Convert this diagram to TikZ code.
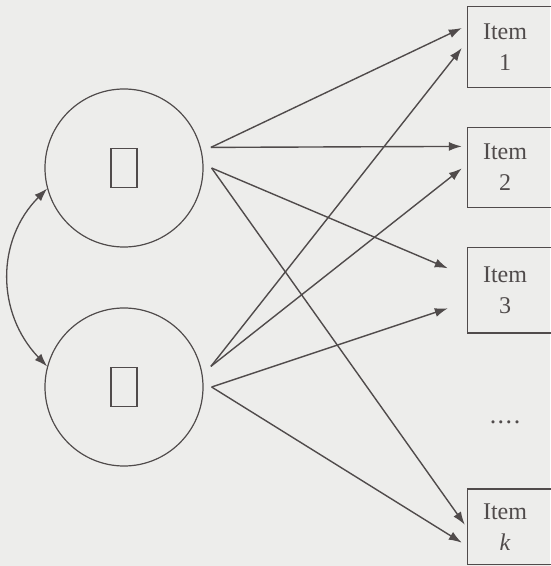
\documentclass[tikz,border=0pt]{standalone}
\usepackage{fontspec}
\setmainfont{Liberation Serif}
\usepackage{tikz}
\usetikzlibrary{positioning, shapes, arrows.meta}
\definecolor{paper}{RGB}{237,237,235}
\definecolor{ink}{RGB}{80,75,75}

\begin{document}
\begin{tikzpicture}[
		x=1pt, y=1pt,
		node distance=40pt,
		unit/.style={circle, draw=ink, line width=1.2pt, minimum size=158pt, inner sep=0pt},
		slot/.style={rectangle, draw=ink, line width=1.1pt, minimum width=26pt, minimum height=39pt, inner sep=0pt},
		item/.style={text width=74pt, minimum height=#1, align=center, inner sep=0pt, text=ink, font=\fontsize{24}{31}\selectfont},
		link/.style={draw=ink, line width=1.4pt, -{Latex[length=13pt,width=9pt]}}
		]
		
		% Page and background
		\path[use as bounding box, fill=paper] (0,0) rectangle (550,566);
		
		% Two units on the left
		\node[unit] (up) at (124,398) {};
		\node[slot] (upslot) at (up) {};
		\node[unit] (low) at (124,179) {};
		\node[slot] (lowslot) at (low) {};
		
		% Items on the right, open towards the edge
		\node[item=80pt] (i1) at (505,519) {Item\\1};
		\node[item=80pt, below=of i1] (i2) {Item\\2};
		\node[item=85pt, below=of i2] (i3) {Item\\3};
		\node[item=75pt, below=156pt of i3] (ik) {Item\\\textit{k}};
		\node[text=ink, font=\fontsize{26}{31}\selectfont] (dots) at (505,144) {.\kern1.5pt.\kern1.5pt.\kern1.5pt.};
		
		\foreach \n in {i1,i2,i3,ik}
			\draw[ink, line width=1.2pt] (\n.north west) rectangle ([xshift=80pt]\n.south east);
		
		% Start points of the arrows
		\coordinate (u1) at ([xshift=10pt]up.15);
		\coordinate (u2) at ([xshift=8pt]up.east);
		\coordinate (l1) at ([xshift=10pt]low.15);
		\coordinate (l2) at ([xshift=8pt]low.east);
		
		% Arrows from the upper unit
		\draw[link] (u1) -- ([xshift=-6pt, yshift=19pt]i1.west);
		\draw[link] (u1) -- ([xshift=-6pt, yshift=21pt]i2.west);
		\draw[link] (u2) -- ([xshift=-20pt, yshift=22pt]i3.west);
		\draw[link] (u2) -- ([xshift=-3pt, yshift=2pt]ik.west);
		
		% Arrows from the lower unit
		\draw[link] (l1) -- ([xshift=-6pt, yshift=-1pt]i1.west);
		\draw[link] (l1) -- ([xshift=-6pt, yshift=-1pt]i2.west);
		\draw[link] (l2) -- ([xshift=-20pt, yshift=-18pt]i3.west);
		\draw[link] (l2) -- ([xshift=-6pt, yshift=-16pt]ik.west);
		
		% Link between the two units
		\draw[draw=ink, line width=1.3pt, {Latex[length=13pt,width=9pt]}-{Latex[length=13pt,width=9pt]}]
			(up.195) .. controls (-4,326) and (-4,253) .. (low.165);
		
	\end{tikzpicture}
\end{document}
